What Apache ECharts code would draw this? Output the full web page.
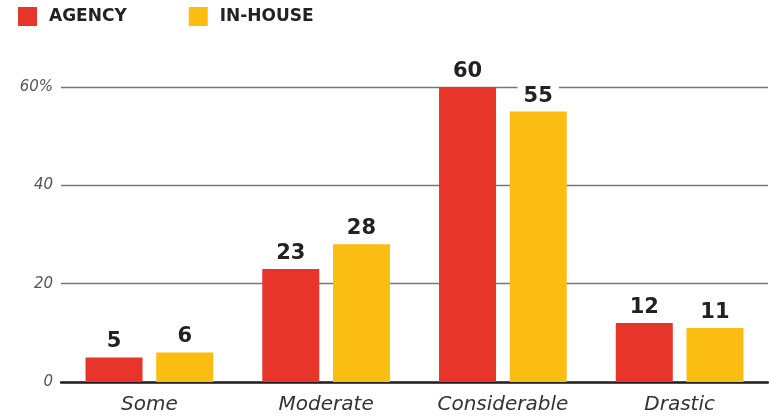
<!DOCTYPE html>
<html>
<head>
<meta charset="utf-8">
<script src="https://cdn.jsdelivr.net/npm/echarts@6/dist/echarts.min.js"></script>
<style>
  html, body { margin: 0; padding: 0; background: #fff; }
  #main { width: 769px; height: 419px; }
</style>
</head>
<body>
<div id="main"></div>
<script>
// chart data
var categories = ['Some', 'Moderate', 'Considerable', 'Drastic'];
var agency = [5, 23, 60, 12];
var inHouse = [6, 28, 55, 11];
var yTicks = [0, 20, 40, 60];

var myChart = echarts.init(document.getElementById('main'));

var valueLabel = {
    show: true,
    position: 'top',
    distance: 5,
    fontFamily: 'DejaVu Sans',
    fontWeight: 'bold',
    fontSize: 21,
    color: '#222',
    backgroundColor: '#fff',
    padding: [2, 6, 0, 6]
};

myChart.setOption({
    animation: false,
    legend: {
        left: 18,
        top: 7,
        padding: 0,
        itemWidth: 19,
        itemHeight: 19,
        itemGap: 62,
        icon: 'rect',
        formatter: '{t|{name}}',
        textStyle: {
            rich: {
                t: {
                    fontFamily: 'DejaVu Sans',
                    fontWeight: 'bold',
                    fontSize: 17,
                    color: '#222',
                    padding: [0, 0, 0, 7]
                }
            }
        },
        data: ['AGENCY', 'IN-HOUSE']
    },
    grid: { left: 61, right: 1, top: 87, bottom: 37, containLabel: false },
    xAxis: {
        type: 'category',
        data: categories,
        axisLine: { lineStyle: { color: '#222', width: 2.5 } },
        axisTick: { show: false },
        axisLabel: {
            fontFamily: 'DejaVu Sans',
            fontStyle: 'italic',
            fontSize: 20,
            color: '#333',
            margin: 13
        }
    },
    yAxis: {
        type: 'value',
        min: yTicks[0],
        max: yTicks[yTicks.length - 1],
        interval: 20,
        axisLine: { show: false },
        axisTick: { show: false },
        splitLine: { lineStyle: { color: '#777', width: 1.3 } },
        axisLabel: {
            margin: 8,
            fontFamily: 'DejaVu Sans',
            fontStyle: 'italic',
            fontSize: 15,
            color: '#555',
            formatter: function (v) { return v === 60 ? v + '%' : v; }
        }
    },
    series: [
        {
            name: 'AGENCY',
            type: 'bar',
            data: agency,
            barWidth: 57,
            barGap: '24%',
            itemStyle: { color: '#E8352A' },
            label: valueLabel
        },
        {
            name: 'IN-HOUSE',
            type: 'bar',
            data: inHouse,
            barWidth: 57,
            itemStyle: { color: '#FCBD13' },
            label: valueLabel
        }
    ]
});
</script>
</body>
</html>
